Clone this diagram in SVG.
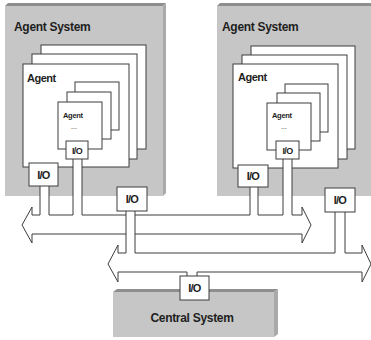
<svg xmlns="http://www.w3.org/2000/svg" width="371" height="340" viewBox="0 0 371 340">
  <style>
    .front { fill: #c6c6c6; }
    .top { fill: #8e8e8e; }
    .side { fill: #a9a9a9; }
    .sheet { fill: #ffffff; stroke: #3c3c3c; stroke-width: 1; }
    .io { fill: #ffffff; stroke: #3c3c3c; stroke-width: 1; }
    .bus { fill: #ffffff; stroke: #3c3c3c; stroke-width: 1; stroke-linejoin: miter; }
    text { font-family: "Liberation Sans", Arial, sans-serif; font-weight: bold; fill: #1e1e1e; }
    .sys { font-size: 12px; letter-spacing: -0.3px; }
    .agent { font-size: 11px; letter-spacing: -0.5px; }
    .agent-sm { font-size: 7.5px; letter-spacing: -0.3px; }
    .dots { font-size: 7px; font-weight: normal; }
    .iolbl { font-size: 11px; letter-spacing: -0.8px; text-anchor: middle; }
    .iolbl-sm { font-size: 9px; letter-spacing: -0.6px; text-anchor: middle; }
  </style>

  <!-- Left agent system slab -->
  <g id="agent-system-left">
    <rect class="front" x="5" y="6" width="158" height="190"/>
    <polygon class="top" points="5,6 8,3 166,3 163,6"/>
    <polygon class="side" points="163,6 166,3 166,193 163,196"/>
    <text class="sys" x="14" y="31">Agent System</text>
  </g>

  <!-- Right agent system slab -->
  <g id="agent-system-right">
    <rect class="front" x="217" y="6" width="154" height="190"/>
    <polygon class="top" points="217,6 220,3 371,3 371,6"/>
    <text class="sys" x="222" y="31">Agent System</text>
  </g>

  <!-- Central system slab -->
  <g id="central-system">
    <rect class="front" x="113" y="292" width="161" height="45"/>
    <polygon class="top" points="113,292 117,289 278,289 274,292"/>
    <polygon class="side" points="274,292 278,289 278,334 274,337"/>
    <text class="sys" x="192" y="322" text-anchor="middle">Central System</text>
  </g>

  <!-- Left agent stack -->
  <g id="agent-left">
    <rect class="sheet" x="41" y="45" width="105" height="104"/>
    <rect class="sheet" x="32" y="54" width="105" height="105"/>
    <rect class="sheet" x="23" y="64" width="106" height="103"/>
    <text class="agent" x="27" y="82">Agent</text>
  </g>
  <g id="subagent-left">
    <rect class="sheet" x="75" y="82" width="44" height="48"/>
    <rect class="sheet" x="67" y="92" width="44" height="47"/>
    <rect class="sheet" x="58" y="102" width="44" height="47"/>
    <text class="agent-sm" x="63" y="118">Agent</text>
    <text class="dots" x="71" y="129">...</text>
  </g>

  <!-- Right agent stack -->
  <g id="agent-right">
    <rect class="sheet" x="251" y="46" width="104" height="103"/>
    <rect class="sheet" x="242" y="55" width="105" height="104"/>
    <rect class="sheet" x="233" y="64" width="105" height="104"/>
    <text class="agent" x="238" y="81">Agent</text>
  </g>
  <g id="subagent-right">
    <rect class="sheet" x="285" y="84" width="43" height="48"/>
    <rect class="sheet" x="277" y="93" width="43" height="48"/>
    <rect class="sheet" x="267" y="103" width="44" height="47"/>
    <text class="agent-sm" x="272" y="118">Agent</text>
    <text class="dots" x="281" y="129">...</text>
  </g>

  <!-- Buses with their feeder pipes -->
  <g id="connectors">
    <path id="bus-upper" class="bus" d="M40,184 V215 H32 V207 L22,225 L32,243 V234 H302 V243 L311,225 L302,207 V215 H292 V155 H283 V215 H258 V185 H250 V215 H82 V155 H73 V215 H49 V184 Z"/>
    <path id="bus-lower" class="bus" d="M126,209 V253 H118 V245 L108,264 L118,282 V272 H187 V278 H197 V272 H362 V282 L371,264 L362,245 V253 H345 V210 H335 V253 H135 V209 Z"/>
  </g>

  <!-- I/O ports -->
  <g id="io-left-agent">
    <rect class="io" x="29" y="163" width="29" height="23"/>
    <text class="iolbl" x="43.5" y="179">I/O</text>
  </g>
  <g id="io-left-subagent">
    <rect class="io" x="66" y="141" width="22" height="18"/>
    <text class="iolbl-sm" x="77" y="154">I/O</text>
  </g>
  <g id="io-right-agent">
    <rect class="io" x="238" y="165" width="30" height="22"/>
    <text class="iolbl" x="253" y="180">I/O</text>
  </g>
  <g id="io-right-subagent">
    <rect class="io" x="276" y="141" width="23" height="18"/>
    <text class="iolbl-sm" x="287.5" y="154">I/O</text>
  </g>
  <g id="io-left-system">
    <rect class="io" x="117" y="187" width="30" height="24"/>
    <text class="iolbl" x="132" y="203">I/O</text>
  </g>
  <g id="io-right-system">
    <rect class="io" x="325" y="188" width="30" height="24"/>
    <text class="iolbl" x="340" y="204">I/O</text>
  </g>
  <g id="io-central">
    <rect class="io" x="180" y="276" width="29" height="24"/>
    <text class="iolbl" x="194.5" y="292">I/O</text>
  </g>
</svg>
